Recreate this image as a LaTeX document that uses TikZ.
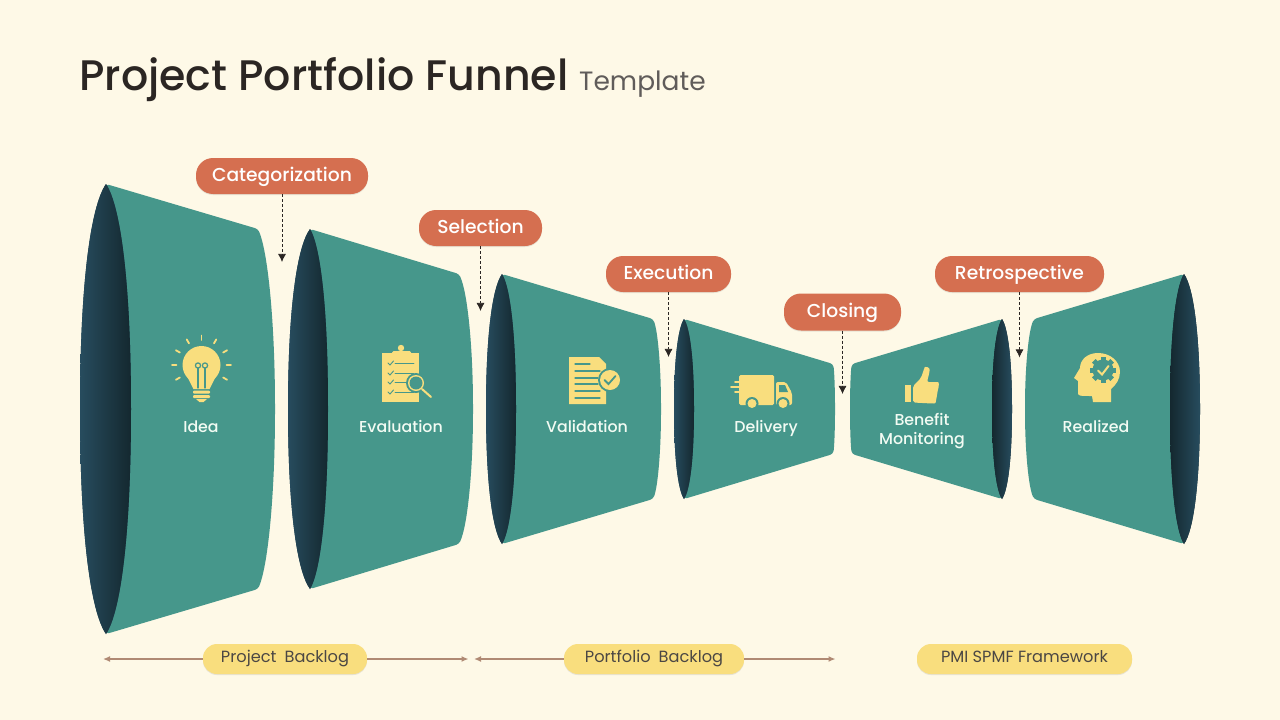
\documentclass[tikz,border=0pt]{standalone}
\usepackage{fontspec}
\setmainfont{Poppins}
\newfontfamily\titlefont[UprightFont=* Medium]{Poppins}
\usetikzlibrary{shadows,arrows.meta}
\definecolor{paper}{HTML}{FEF9E7}
\definecolor{funnelteal}{HTML}{46978B}
\definecolor{lobelight}{HTML}{274C5E}
\definecolor{lobedark}{HTML}{14282F}
\definecolor{pillred}{HTML}{D56F50}
\definecolor{pillyellow}{HTML}{F9DE7E}
\definecolor{spanbrown}{HTML}{B08A74}
\definecolor{inkdark}{HTML}{2B2623}
\definecolor{labelpale}{HTML}{F2FBF3}
\tikzset{
  stagepill/.style={fill=pillred, rounded corners=17pt, text=white, font=\fontsize{18.7}{20}\selectfont\titlefont, text height=14pt, text depth=3pt, inner sep=0pt, drop shadow={shadow xshift=0pt, shadow yshift=-1pt, opacity=.18}},
  spanpill/.style={fill=pillyellow, rounded corners=14pt, text=inkdark!85, font=\fontsize{16.2}{18}\selectfont, text height=11pt, text depth=4pt, inner sep=0pt, drop shadow={shadow xshift=0pt, shadow yshift=-1pt, opacity=.18}},
  stagelabel/.style={text=labelpale, font=\fontsize{15.8}{19}\selectfont\titlefont, align=center, inner sep=0pt, text height=12pt, text depth=4pt},
  droparrow/.style={densely dashed, inkdark, -{Latex[length=8pt,width=8pt]}, line width=.7pt},
  spanarrow/.style={spanbrown, line width=1.3pt, -{Latex[length=7pt,width=6pt]}},
  iconfill/.style={fill=pillyellow},
  iconcut/.style={draw=funnelteal, line width=1.2pt, line cap=round},
  iconray/.style={draw=pillyellow, line width=1.8pt, line cap=round}
}
% apex x, half height, lobe left, lobe right, corner x, corner half height, extreme x, left colour, right colour
\newcommand{\funnelshape}[9]{
  \fill[funnelteal, rounded corners=3pt] (#1,409) -- (#1,{409-#2}) -- (#5,{409-#6})
    .. controls ({#5+0.62*(#7-#5)},{409-0.86*#6}) and (#7,{409-0.45*#6}) .. (#7,409)
    .. controls (#7,{409+0.45*#6}) and ({#5+0.62*(#7-#5)},{409+0.86*#6}) .. (#5,{409+#6})
    -- (#1,{409+#2}) -- cycle;
  \path[preaction={fill=#8}, left color=#8, right color=#9] (#1,{409-#2})
    .. controls ({#1+0.6*(#3-#1)},{409-0.9*#2}) and (#3,{409-0.55*#2}) .. (#3,409)
    .. controls (#3,{409+0.55*#2}) and ({#1+0.6*(#3-#1)},{409+0.9*#2}) .. (#1,{409+#2})
    .. controls ({#1+0.6*(#4-#1)},{409+0.9*#2}) and (#4,{409+0.55*#2}) .. (#4,409)
    .. controls (#4,{409-0.55*#2}) and ({#1+0.6*(#4-#1)},{409-0.9*#2}) .. (#1,{409-#2}) -- cycle;
}
\begin{document}
\begin{tikzpicture}[x=1pt,y=-1pt]
  \useasboundingbox[fill=paper] (0,0) rectangle (1280,720);

  \node[anchor=base west, inner sep=0pt, text=inkdark, font=\fontsize{42.7}{46}\selectfont\titlefont] (title) at (79,90.5) {Project Portfolio Funnel};
  \node[anchor=base west, inner sep=0pt, text=inkdark!75, font=\fontsize{26.5}{30}\selectfont] (subtitle) at (579,90) {Template};

  \funnelshape{106}{225}{80}{131}{258}{180}{275}{lobelight}{lobedark}
  \funnelshape{310}{180}{288}{328}{459}{135}{473}{lobelight}{lobedark}
  \funnelshape{502}{135}{486}{516}{653}{90}{661}{lobelight}{lobedark}
  \funnelshape{684}{90}{674}{694}{833}{45}{835}{lobelight}{lobedark}
  \funnelshape{1002}{90}{992}{1012}{852}{45}{850}{lobedark}{lobelight}
  \funnelshape{1184}{135}{1170}{1200}{1034}{90}{1025}{lobedark}{lobelight}

  \node[stagelabel] (idea) at (201,428.5) {Idea};
  \node[stagelabel] (evaluation) at (401,428.5) {Evaluation};
  \node[stagelabel] (validation) at (587,428.5) {Validation};
  \node[stagelabel] (delivery) at (766,428.5) {Delivery};
  \node[stagelabel] (benefit) at (922,440.5) {Benefit\\Monitoring};
  \node[stagelabel] (realized) at (1096,428.5) {Realized};

  \node[stagepill, minimum width=172pt, minimum height=36pt] (categorization) at (282,176) {Categorization};
  \node[stagepill, minimum width=123pt, minimum height=36pt] (selection) at (480.5,228) {Selection};
  \node[stagepill, minimum width=125pt, minimum height=36pt] (execution) at (668.5,274) {Execution};
  \node[stagepill, minimum width=117pt, minimum height=37pt] (closing) at (842.5,312) {Closing};
  \node[stagepill, minimum width=169pt, minimum height=36pt] (retrospective) at (1019.5,274) {Retrospective};

  \coordinate[below of=categorization, yshift=-57.5pt] (catend);
  \coordinate[below of=selection, yshift=-54.5pt] (selend);
  \coordinate[below of=execution, yshift=-54.5pt] (exeend);
  \coordinate[below of=closing, yshift=-53.5pt] (cloend);
  \coordinate[below of=retrospective, yshift=-55pt] (retend);

  \draw[droparrow] (categorization)--(catend);
  \draw[droparrow] (selection)--(selend);
  \draw[droparrow] (execution)--(exeend);
  \draw[droparrow] (closing)--(cloend);
  \draw[droparrow] (retrospective)--(retend);

  \node[spanpill, minimum width=164pt, minimum height=30pt] (projectbacklog) at (285,659) {Project\hspace{.5em}Backlog};
  \node[spanpill, minimum width=180pt, minimum height=30pt] (portfoliobacklog) at (654,659) {Portfolio\hspace{.5em}Backlog};
  \node[spanpill, minimum width=215pt, minimum height=30pt] (framework) at (1024.5,659) {PMI SPMF Framework};

  \coordinate (projectleft) at (103,659);
  \coordinate (projectright) at (468.5,659);
  \coordinate (portfolioleft) at (474,659);
  \coordinate (portfolioright) at (835.5,659);

  \draw[spanarrow] (projectbacklog)--(projectleft);
  \draw[spanarrow] (projectbacklog)--(projectright);
  \draw[spanarrow] (portfoliobacklog)--(portfolioleft);
  \draw[spanarrow] (portfoliobacklog)--(portfolioright);

  \fill[iconfill] (201.5,365) circle (19);
  \fill[iconfill] (187,376) -- (216,376) -- (209.5,389) -- (193.5,389) -- cycle;
  \fill[iconfill, rounded corners=1pt] (193,390.5) rectangle (210,393.5);
  \fill[iconfill, rounded corners=1pt] (193,395) rectangle (210,398);
  \fill[iconfill] (196,399) -- (207,399) -- (203.5,402) -- (199.5,402) -- cycle;
  \foreach \x in {198,205}{
    \draw[iconcut] (\x,388) -- (\x,368);
    \draw[iconcut] (\x,365.5) circle (2.6);
  }
  \foreach \a in {-90,-60,-120,-30,-150,0,180,30,150}
    \draw[iconray] ([shift={(\a:25)}]201.5,365) -- ([shift={(\a:29.5)}]201.5,365);

  \fill[iconfill] (382,353) rectangle (419,402);
  \fill[iconfill, rounded corners=1.5pt] (392,351) rectangle (411,357);
  \fill[iconfill] (401,348) circle (3.2);
  \foreach \y in {363,373,382,392}{
    \draw[iconcut, line width=.9pt] (388,\y) -- (390,{\y+2}) -- (393.5,{\y-2});
    \draw[iconcut, line width=.9pt] (395,\y) -- (414,\y);
  }
  \fill[funnelteal] (416,383) circle (10);
  \fill[iconfill] (416,383) circle (8);
  \fill[funnelteal] (416,383) circle (6.5);
  \draw[iconray, line width=2pt] (422,389) -- (431,397);

  \fill[iconfill] (569,357) -- (599,357) -- (606,364) -- (606,404) -- (569,404) -- cycle;
  \foreach \y/\e in {364/590,371/600,378/598,384/598,391/600,398/600}
    \draw[iconcut] (575,\y) -- (\e,\y);
  \fill[funnelteal] (610,380) circle (12);
  \fill[iconfill] (610,380) circle (10);
  \draw[iconcut, line width=1.8pt] (604.5,380) -- (608.5,384) -- (615.5,376);

  \fill[iconfill, rounded corners=1.5pt] (739,375) rectangle (774,405);
  \fill[iconfill, rounded corners=2pt] (776,382) -- (786,382) -- (792,393) -- (792,405) -- (776,405) -- cycle;
  \fill[funnelteal] (779,385) -- (785,385) -- (788,392) -- (779,392) -- cycle;
  \foreach \x in {752,783}{
    \fill[funnelteal] (\x,403.5) circle (6.5);
    \fill[iconfill] (\x,403.5) circle (4.5);
  }
  \foreach \y/\s in {382/735,387/731,392/735}
    \draw[iconray] (\s,\y) -- (742,\y);

  \fill[iconfill] (905,385) rectangle (911,402);
  \fill[iconfill, rounded corners=2pt] (913,386) -- (921,378) -- (924,369)
    .. controls (925,366.5) and (930,367) .. (929.5,372) -- (927,382) -- (936,382)
    .. controls (939,382) and (939,386) .. (938,389) -- (936,401)
    .. controls (935.5,403) and (934,403.5) .. (932,403.5) -- (913,402.5) -- cycle;

  \fill[iconfill] (1098,353)
    .. controls (1087,353) and (1080,360) .. (1080,368)
    -- (1074,378) -- (1078,381) -- (1078,393)
    .. controls (1078,396) and (1080,396) .. (1092,396)
    -- (1093,402) -- (1111,402) -- (1111,389)
    .. controls (1116,385) and (1120,379) .. (1120,372)
    .. controls (1120,361) and (1110,353) .. (1098,353) -- cycle;
  \fill[funnelteal] (1103,370) circle (10.5);
  \foreach \a in {0,45,...,315}
    \fill[funnelteal, shift={(1103,370)}, rotate=\a] (-2.5,-13) rectangle (2.5,-8);
  \draw[draw=pillyellow, line width=2pt, line cap=round] (1098,370.5) -- (1102,374.5) -- (1108.5,366);
\end{tikzpicture}
\end{document}
